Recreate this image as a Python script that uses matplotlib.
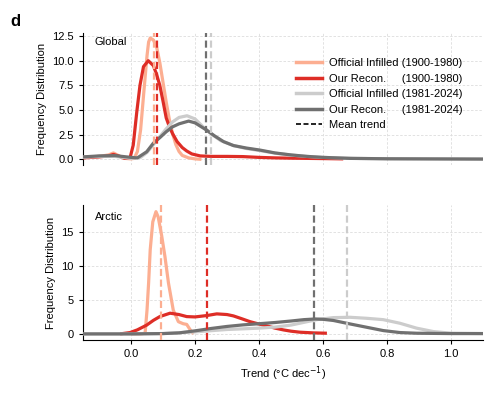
import matplotlib
matplotlib.use("Agg")
import matplotlib.pyplot as plt
from matplotlib.lines import Line2D

plt.rcParams['font.family'] = ['Liberation Sans', 'DejaVu Sans']
plt.rcParams['font.size'] = 8

# ---------------- data ----------------
# Global
g_off_early_x = [-0.15, -0.1, -0.07, -0.055, -0.04, -0.02, 0.0, 0.01, 0.02, 0.03, 0.04, 0.05, 0.055, 0.06, 0.07, 0.08, 0.09, 0.1, 0.11, 0.12, 0.13, 0.14, 0.15, 0.16, 0.18, 0.2, 0.22]
g_off_early_y = [0.2, 0.3, 0.45, 0.65, 0.4, 0.1, 0.05, 0.1, 0.8, 3.0, 6.8, 10.5, 11.9, 12.3, 12.1, 11.4, 9.8, 7.8, 5.8, 4.0, 2.6, 1.5, 0.8, 0.4, 0.15, 0.05, 0.0]

g_our_early_x = [-0.15, -0.1, -0.07, -0.055, -0.04, -0.02, -0.003, 0.007, 0.018, 0.028, 0.039, 0.054, 0.07, 0.08, 0.09, 0.1, 0.11, 0.12, 0.13, 0.144, 0.16, 0.174, 0.19, 0.216, 0.25, 0.3, 0.35, 0.4, 0.45, 0.5, 0.55, 0.6, 0.663]
g_our_early_y = [0.15, 0.25, 0.35, 0.5, 0.35, 0.1, 0.15, 1.45, 4.8, 7.5, 9.4, 10.0, 9.5, 8.6, 7.5, 5.9, 4.2, 3.3, 2.6, 1.8, 1.2, 0.85, 0.55, 0.35, 0.3, 0.3, 0.28, 0.2, 0.15, 0.12, 0.1, 0.08, 0.05]

g_off_late_x = [-0.15, -0.1, -0.05, 0.0, 0.03, 0.05, 0.07, 0.09, 0.11, 0.13, 0.15, 0.175, 0.2, 0.225, 0.25, 0.28, 0.32, 0.36, 0.4, 0.45, 0.5, 0.55, 0.6, 0.7, 0.8, 0.9, 1.0, 1.1]
g_off_late_y = [0.2, 0.3, 0.3, 0.1, 0.2, 0.7, 1.5, 2.3, 3.1, 3.8, 4.25, 4.42, 4.1, 3.3, 2.6, 1.9, 1.4, 1.1, 0.9, 0.63, 0.43, 0.3, 0.2, 0.1, 0.06, 0.05, 0.04, 0.03]

g_our_late_x = [-0.15, -0.1, -0.05, 0.0, 0.02, 0.049, 0.07, 0.09, 0.11, 0.13, 0.15, 0.18, 0.2, 0.236, 0.26, 0.289, 0.32, 0.36, 0.403, 0.45, 0.5, 0.55, 0.6, 0.684, 0.8, 0.9, 1.0, 1.1]
g_our_late_y = [0.25, 0.35, 0.38, 0.2, 0.15, 0.77, 1.65, 2.2, 2.8, 3.3, 3.6, 3.88, 3.7, 2.97, 2.4, 1.8, 1.4, 1.15, 0.94, 0.65, 0.45, 0.3, 0.2, 0.1, 0.06, 0.05, 0.04, 0.03]

# Arctic
a_off_early_x = [0.0, 0.03, 0.044, 0.05, 0.055, 0.06, 0.068, 0.078, 0.085, 0.096, 0.106, 0.117, 0.132, 0.148, 0.163, 0.174, 0.185, 0.195]
a_off_early_y = [0.0, 0.0, 0.1, 3.5, 7.5, 12.4, 16.5, 18.0, 17.2, 14.4, 11.4, 7.5, 3.5, 1.8, 1.5, 1.4, 0.6, 0.0]

a_our_early_x = [-0.034, -0.003, 0.02, 0.049, 0.07, 0.09, 0.122, 0.15, 0.174, 0.2, 0.236, 0.268, 0.3, 0.32, 0.345, 0.372, 0.4, 0.424, 0.45, 0.476, 0.5, 0.528, 0.57, 0.612]
a_our_early_y = [0.0, 0.2, 0.6, 1.3, 2.0, 2.55, 3.05, 2.85, 2.55, 2.5, 2.7, 2.95, 2.85, 2.65, 2.25, 1.8, 1.45, 1.18, 0.85, 0.59, 0.4, 0.25, 0.15, 0.1]

a_off_late_x = [-0.15, 0.0, 0.1, 0.2, 0.3, 0.4, 0.45, 0.5, 0.55, 0.58, 0.632, 0.684, 0.736, 0.788, 0.84, 0.892, 0.944, 1.0, 1.1]
a_off_late_y = [0.0, 0.0, 0.05, 0.3, 0.65, 0.85, 1.0, 1.3, 1.8, 2.1, 2.4, 2.45, 2.3, 2.1, 1.57, 0.85, 0.35, 0.1, 0.05]

a_our_late_x = [-0.15, 0.0, 0.1, 0.15, 0.2, 0.25, 0.3, 0.35, 0.4, 0.45, 0.5, 0.54, 0.575, 0.6, 0.632, 0.684, 0.736, 0.788, 0.84, 0.892, 1.0, 1.1]
a_our_late_y = [0.0, 0.0, 0.05, 0.15, 0.45, 0.8, 1.1, 1.33, 1.5, 1.68, 1.9, 2.1, 2.2, 2.15, 1.98, 1.47, 0.98, 0.49, 0.2, 0.1, 0.05, 0.05]

# mean trends: [official early, our early, official late, our late]
global_means = [0.072, 0.080, 0.250, 0.233]
arctic_means = [0.095, 0.236, 0.676, 0.572]

labels = ["Official Infilled (1900-1980)", "Our Recon.     (1900-1980)",
          "Official Infilled (1981-2024)", "Our Recon.     (1981-2024)"]
colors = ["#fcae91", "#de2d26", "#cccccc", "#707070"]

# ---------------- figure ----------------
fig = plt.figure(figsize=(4.94, 3.94), dpi=100)
ax1 = fig.add_axes([0.168, 0.581, 0.810, 0.335])
ax2 = fig.add_axes([0.168, 0.137, 0.810, 0.343])

lw = 2.3

def draw(ax, series, means):
    for (x, y), c in zip(series, colors):
        ax.plot(x, y, color=c, lw=lw, solid_capstyle='butt', zorder=3)
    for m, c in zip(means, colors):
        ax.axvline(m, color=c, lw=1.6, linestyle=(0, (3.2, 1.6)), zorder=4)
    ax.grid(True, color='#dddddd', linestyle=(0, (3, 2)), lw=0.6)
    ax.set_axisbelow(True)
    ax.set_xlim(-0.15, 1.1)
    for s in ['top', 'right']:
        ax.spines[s].set_visible(False)
    ax.tick_params(length=3, width=0.8)
    ax.set_ylabel("Frequency Distribution")
    ax.set_xticks([0.0, 0.2, 0.4, 0.6, 0.8, 1.0])

draw(ax1, [(g_off_early_x, g_off_early_y), (g_our_early_x, g_our_early_y),
           (g_off_late_x, g_off_late_y), (g_our_late_x, g_our_late_y)], global_means)
draw(ax2, [(a_off_early_x, a_off_early_y), (a_our_early_x, a_our_early_y),
           (a_off_late_x, a_off_late_y), (a_our_late_x, a_our_late_y)], arctic_means)

ax1.set_ylim(-0.58, 12.8)
ax1.set_yticks([0.0, 2.5, 5.0, 7.5, 10.0, 12.5])
ax1.spines['bottom'].set_visible(False)
ax1.tick_params(axis='x', length=0, labelbottom=False)

ax2.set_ylim(-0.9, 19.0)
ax2.set_yticks([0, 5, 10, 15])
ax2.set_xlabel("Trend (°C dec$^{-1}$)")

ax1.text(0.03, 0.93, "Global", transform=ax1.transAxes, va='center', ha='left')
ax2.text(0.03, 0.91, "Arctic", transform=ax2.transAxes, va='center', ha='left')

handles = [Line2D([], [], color=c, lw=2.5) for c in colors]
handles.append(Line2D([], [], color='black', lw=1.2, linestyle=(0, (3, 1.5))))
ax1.legend(handles, labels + ["Mean trend"], loc='upper left', bbox_to_anchor=(0.52, 0.845),
           frameon=False, handlelength=2.4, handletextpad=0.6, labelspacing=0.5,
           borderaxespad=0, fontsize=8)

fig.text(0.02, 0.945, "d", fontsize=12, fontweight='bold', va='center', ha='left')

fig.savefig("out.png", dpi=100)
